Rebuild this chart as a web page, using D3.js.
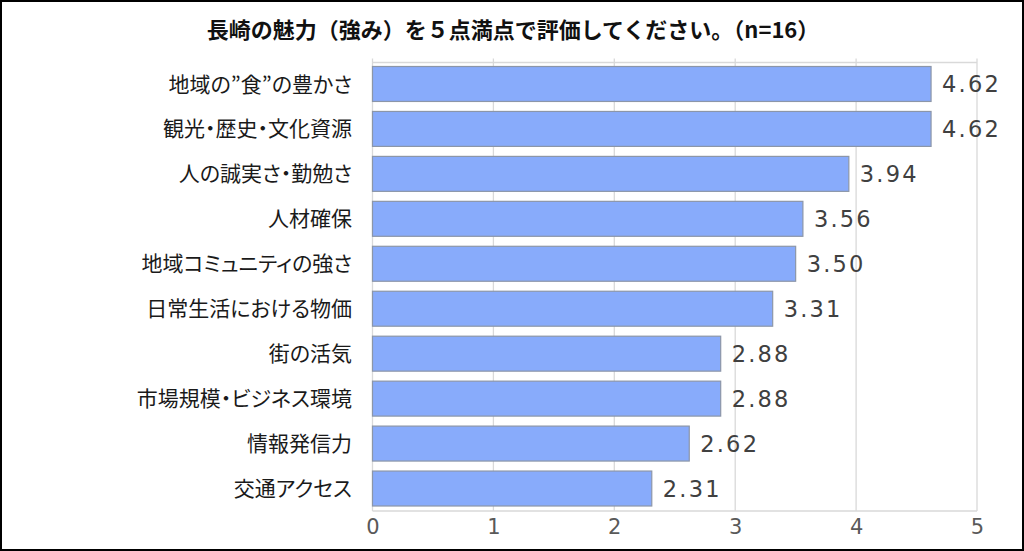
<!DOCTYPE html>
<html><head><meta charset="utf-8">
<script src="https://cdn.jsdelivr.net/npm/d3@7/dist/d3.min.js"></script>
<style>
html,body{margin:0;padding:0;background:#fff;}
svg{display:block;}
.cat{font-feature-settings:"palt" 1;}
</style></head>
<body>
<svg id="chart" width="1024" height="551"></svg>
<script>
const titleText = "長崎の魅力（強み）を５点満点で評価してください。（n=16）";
const categories = ["地域の”食”の豊かさ","観光・歴史・文化資源","人の誠実さ・勤勉さ","人材確保","地域コミュニティの強さ","日常生活における物価","街の活気","市場規模・ビジネス環境","情報発信力","交通アクセス"];
const values = [4.62,4.62,3.94,3.56,3.50,3.31,2.88,2.88,2.62,2.31];
const tickValues = [0,1,2,3,4,5];

(function(){
const svg = d3.select("#chart");
const W = 1024, H = 551;
const font = "'Noto Sans CJK JP', 'Noto Sans', sans-serif";
const numFont = "'DejaVu Sans', 'Noto Sans', sans-serif";

svg.append("rect").attr("x",1).attr("y",1).attr("width",W-2).attr("height",H-2)
  .attr("fill","#fff").attr("stroke","#000").attr("stroke-width",2);

const pLeft = 372.5, pRight = 977, pTop = 61.5, pBottom = 511;
const x = d3.scaleLinear().domain([0,5]).range([pLeft,pRight]);
const y = d3.scaleBand().domain(categories).range([pTop,pBottom]).paddingInner(10/45).paddingOuter(5/45);

// gridlines
svg.append("g").selectAll("line").data(tickValues).join("line")
  .attr("x1",d=>x(d)).attr("x2",d=>x(d)).attr("y1",pTop-3).attr("y2",pBottom)
  .attr("stroke","#d9d9d9").attr("stroke-width",1.3);
svg.append("line").attr("x1",pLeft).attr("x2",pRight).attr("y1",pTop+1).attr("y2",pTop+1)
  .attr("stroke","#d9d9d9").attr("stroke-width",1.3);
svg.append("line").attr("x1",pLeft).attr("x2",pRight).attr("y1",pBottom).attr("y2",pBottom)
  .attr("stroke","#d9d9d9").attr("stroke-width",1.3);

// bars
svg.append("g").selectAll("rect").data(values).join("rect")
  .attr("x",x(0)).attr("y",(d,i)=>y(categories[i]))
  .attr("width",d=>x(d)-x(0)).attr("height",y.bandwidth())
  .attr("fill","#88abfb").attr("stroke","#8c96a8").attr("stroke-width",1.2);

// value labels
svg.append("g").selectAll("text").data(values).join("text")
  .attr("x",d=>x(d)+11).attr("y",(d,i)=>y(categories[i])+y.bandwidth()/2)
  .attr("dy","0.37em").attr("font-family",numFont).attr("font-size",22.5)
  .attr("letter-spacing",2.2)
  .attr("fill","#404040").text(d=>d.toFixed(2));

// category labels
svg.append("g").selectAll("text").data(categories).join("text")
  .attr("class","cat")
  .attr("x",352).attr("y",d=>y(d)+y.bandwidth()/2)
  .attr("dy","0.36em").attr("text-anchor","end").attr("font-family",font).attr("font-size",21)
  .attr("fill","#1a1a1a").text(d=>d);

// x axis tick labels
const axis = d3.axisBottom(x).tickValues(tickValues).tickSize(0).tickPadding(8).tickFormat(d3.format("d"));
const ag = svg.append("g").attr("transform",`translate(0,${pBottom})`).call(axis);
ag.select(".domain").remove();
ag.selectAll("text").attr("font-family",numFont).attr("font-size",21).attr("fill","#595959");

// title
svg.append("text").attr("x",513).attr("y",30).attr("dy","0.36em").attr("text-anchor","middle")
  .attr("font-family",font).attr("font-size",22).attr("font-weight","bold").attr("fill","#111")
  .text(titleText);
})();
</script>
</body></html>
